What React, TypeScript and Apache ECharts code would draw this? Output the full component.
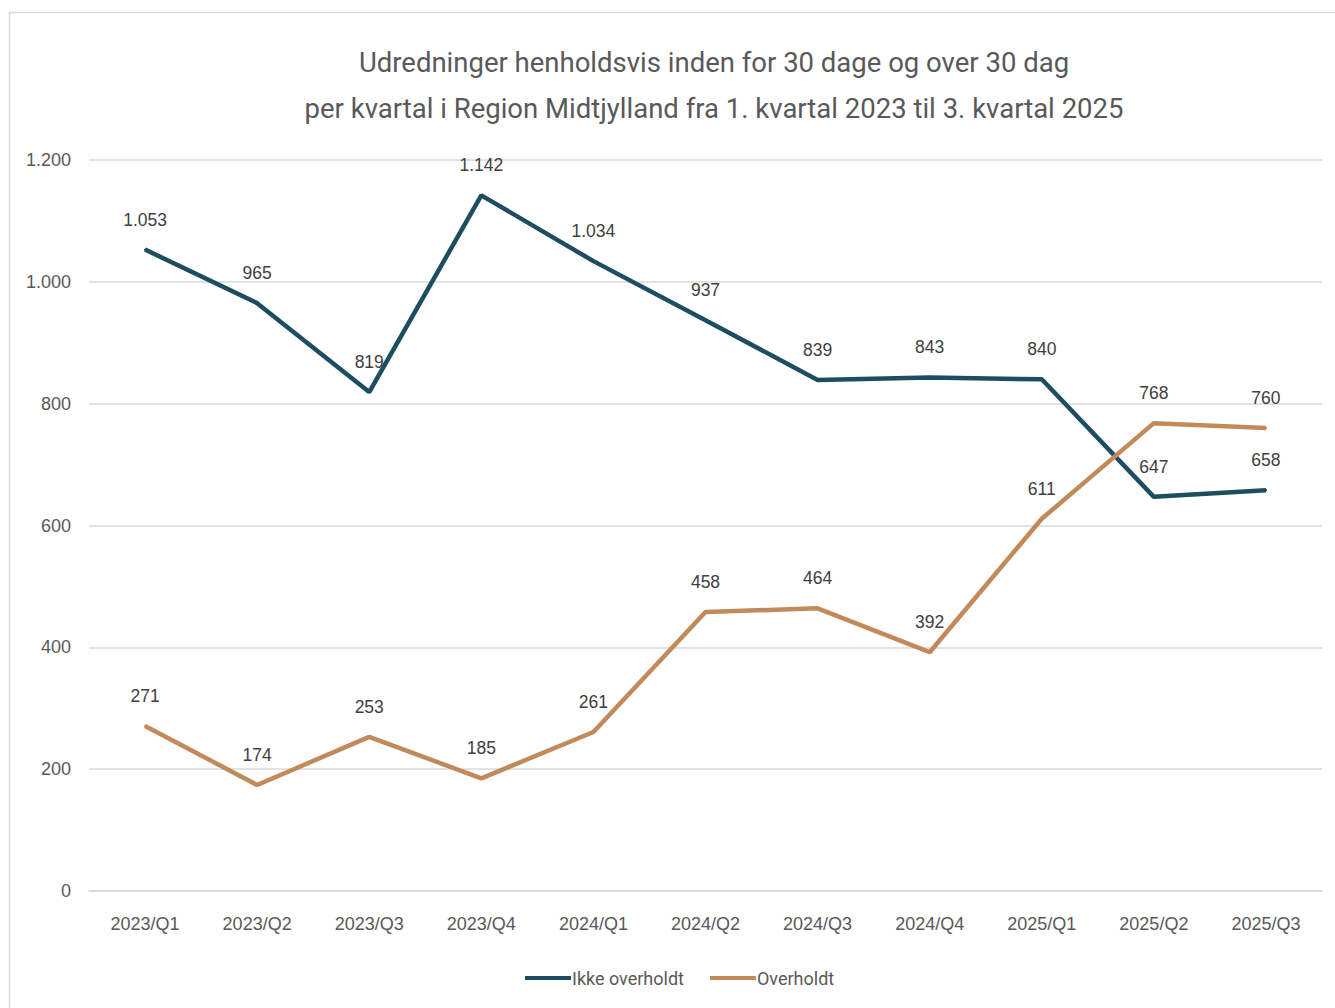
import React, { useEffect, useRef } from "react";
import * as echarts from "echarts";

const categories = ["2023/Q1", "2023/Q2", "2023/Q3", "2023/Q4", "2024/Q1", "2024/Q2", "2024/Q3", "2024/Q4", "2025/Q1", "2025/Q2", "2025/Q3"];
const ikkeOverholdt = [1053, 965, 819, 1142, 1034, 937, 839, 843, 840, 647, 658];
const overholdt = [271, 174, 253, 185, 261, 458, 464, 392, 611, 768, 760];
const titleLines = [
  "Udredninger henholdsvis inden for 30 dage og over 30 dag",
  "per kvartal i Region Midtjylland fra 1. kvartal 2023 til 3. kvartal 2025",
];
const seriesNames = ["Ikke overholdt", "Overholdt"];

const fmt = (v: number) => String(v).replace(/\B(?=(\d{3})+(?!\d))/g, ".");

export default function App() {
  const ref = useRef<HTMLDivElement>(null);
  useEffect(() => {
    const chart = echarts.init(ref.current!, null, { renderer: "svg" });
    const font = "Roboto, 'Liberation Sans', sans-serif";
    const small = "'Liberation Sans', Arial, sans-serif";
    const labelStyle = {
      show: true,
      position: "top" as const,
      distance: 20,
      fontSize: 17.5,
      color: "#404040",
      fontFamily: small,
      formatter: (p: any) => fmt(p.value),
    };
    chart.setOption({
      animation: false,
      backgroundColor: "#ffffff",
      title: {
        text: titleLines.join("\n"),
        left: 709,
        textAlign: "center",
        top: 34,
        textStyle: {
          fontSize: 27.5,
          fontWeight: "normal",
          color: "#595959",
          fontFamily: font,
          lineHeight: 46,
        },
      },
      graphic: [
        {
          type: "rect",
          shape: { x: 9.5, y: 12.5, width: 1340, height: 1010 },
          style: { fill: "none", stroke: "#d9d9d9", lineWidth: 1.5 },
          silent: true,
        },
      ],
      legend: {
        bottom: 16,
        left: 520,
        itemWidth: 46,
        itemHeight: 4,
        itemGap: 26,
        icon: "rect",
        data: seriesNames,
        textStyle: { fontSize: 18, color: "#595959", fontFamily: font, padding: [0, 0, 0, -4] },
      },
      grid: { left: 89, right: 13, top: 160, bottom: 117, containLabel: false },
      xAxis: {
        type: "category",
        data: categories,
        boundaryGap: true,
        axisLine: { show: true, lineStyle: { color: "#d9d9d9", width: 1.5 } },
        axisTick: { show: false },
        axisLabel: { fontSize: 18, color: "#595959", margin: 24, fontFamily: small },
      },
      yAxis: {
        type: "value",
        min: 0,
        max: 1200,
        interval: 200,
        axisLine: { show: false },
        axisTick: { show: false },
        axisLabel: { fontSize: 18, color: "#595959", margin: 18, formatter: (v: number) => fmt(v), fontFamily: small },
        splitLine: { lineStyle: { color: "#d9d9d9", width: 1.5 } },
      },
      series: [
        {
          name: seriesNames[0],
          type: "line",
          data: ikkeOverholdt,
          symbol: "circle",
          symbolSize: 2,
          showSymbol: true,
          lineStyle: { color: "#1e4d62", width: 4.5 },
          itemStyle: { color: "#1e4d62" },
          label: labelStyle,
        },
        {
          name: seriesNames[1],
          type: "line",
          data: overholdt,
          symbol: "circle",
          symbolSize: 2,
          showSymbol: true,
          lineStyle: { color: "#c08a5b", width: 4.5 },
          itemStyle: { color: "#c08a5b" },
          label: labelStyle,
        },
      ],
    });
    return () => chart.dispose();
  }, []);
  return <div ref={ref} style={{ position: "fixed", left: 0, top: 0, width: 1335, height: 1008 }} />;
}
